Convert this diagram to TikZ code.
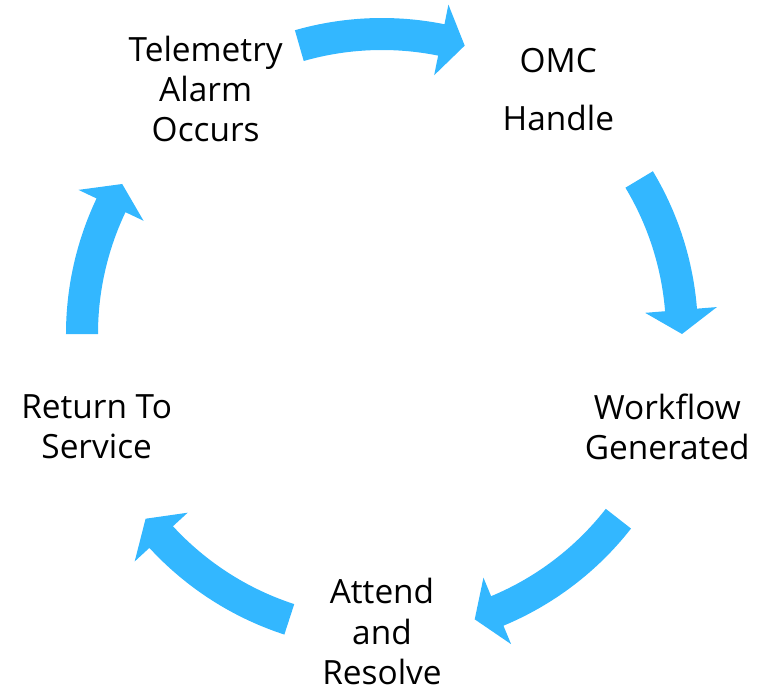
\documentclass[tikz,border=0pt]{standalone}
\usepackage{fontspec}
\setmainfont{Open Sans}
\definecolor{cycleblue}{HTML}{33B7FF}

\begin{document}
\begin{tikzpicture}[
  step label/.style={align=center, inner sep=0pt,
    font=\fontsize{19}{22.8}\selectfont},
  cycle arrow/.style={fill=cycleblue}]
\useasboundingbox (-7.64,-7.12) rectangle (7.7,6.68);
% labels
\node [step label, yshift=0.04cm] (telemetry) at (126:6) {Telemetry\\Alarm\\Occurs};
\node [step label, yshift=0.04cm] (omc) at (54:6) {OMC\\[0.36cm]Handle};
\node [step label] (workflow) at (-18:6) {Workflow\\Generated};
\node [step label] (attend) at (-90:5.95) {Attend\\and\\Resolve};
\node [step label] (service) at (198:6) {Return To\\Service};
% arrows
\fill [cycle arrow] (106:6.32) arc [start angle=106, end angle=78.6, radius=6.32]
  -- (78.6:6.72) -- (74:6) -- (78.6:5.28) -- (78.6:5.68)
  arc [start angle=78.6, end angle=106, radius=5.68] -- cycle;
\fill [cycle arrow] (31:6.32) arc [start angle=31, end angle=4.6, radius=6.32]
  -- (4.6:6.72) -- (0:6) -- (4.6:5.28) -- (4.6:5.68)
  arc [start angle=4.6, end angle=31, radius=5.68] -- cycle;
\fill [cycle arrow] (-38:6.32) arc [start angle=-38, end angle=-67.4, radius=6.32]
  -- (-67.4:6.72) -- (-72:6) -- (-67.4:5.28) -- (-67.4:5.68)
  arc [start angle=-67.4, end angle=-38, radius=5.68] -- cycle;
\fill [cycle arrow] (252:6.32) arc [start angle=252, end angle=222.6, radius=6.32]
  -- (222.6:6.72) -- (218:6) -- (222.6:5.28) -- (222.6:5.68)
  arc [start angle=222.6, end angle=252, radius=5.68] -- cycle;
\fill [cycle arrow] (180:6.32) arc [start angle=180, end angle=154.6, radius=6.32]
  -- (154.6:6.72) -- (150:6) -- (154.6:5.28) -- (154.6:5.68)
  arc [start angle=154.6, end angle=180, radius=5.68] -- cycle;
\end{tikzpicture}
\end{document}
